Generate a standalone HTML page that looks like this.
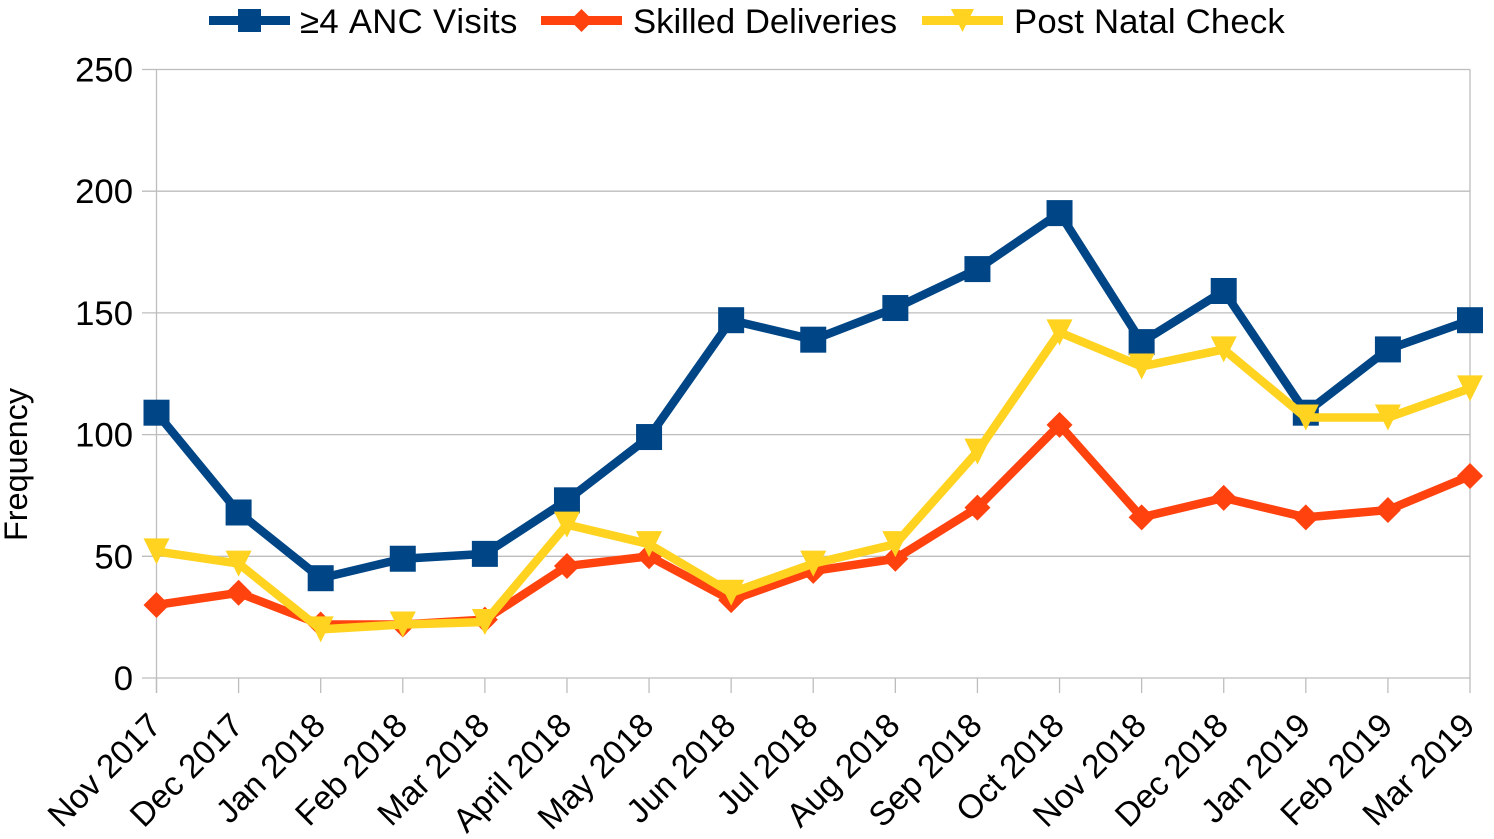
<!DOCTYPE html>
<html lang="en">
<head>
<meta charset="utf-8">
<title>Frequency chart</title>
<style>
html,body{margin:0;padding:0;background:#fff;}
svg{display:block;font-family:"Liberation Sans",sans-serif;fill:#000;font-kerning:none;}
</style>
</head>
<body>
<svg id="chart" width="1494" height="839" viewBox="0 0 1494 839" xmlns="http://www.w3.org/2000/svg">
<rect width="1494" height="839" fill="#fff"/>
<g id="grid"></g>
<g id="axes"></g>
<text transform="translate(27,464.5) rotate(-90)" text-anchor="middle" font-size="32.4">Frequency</text>
<g id="series"></g>
<g id="legend"></g>
</svg>
<script>
const categories = ["Nov 2017","Dec 2017","Jan 2018","Feb 2018","Mar 2018","April 2018","May 2018","Jun 2018","Jul 2018","Aug 2018","Sep 2018","Oct 2018","Nov 2018","Dec 2018","Jan 2019","Feb 2019","Mar 2019"];
const ancVisits = [109,68,41,49,51,73,99,147,139,152,168,191,138,159,109,135,147];
const skilledDeliveries = [30,35,22,22,24,46,50,32,44,49,70,104,66,74,66,69,83];
const postNatalCheck = [52,47,20,22,23,63,55,35,47,55,93,142,128,135,107,107,119];
const yTicks = [0,50,100,150,200,250];
const seriesNames = ["≥4 ANC Visits","Skilled Deliveries","Post Natal Check"];

const NS = "http://www.w3.org/2000/svg";
const left = 156.5, right = 1470, top_ = 69.5, bottom = 678, yMax = 250;
const xPos = i => left + (right - left) * i / (categories.length - 1);
const yPos = v => bottom - (bottom - top_) * v / yMax;

function make(tag, attrs, parent) {
  const el = document.createElementNS(NS, tag);
  for (const k in attrs) el.setAttribute(k, attrs[k]);
  parent.appendChild(el);
  return el;
}

const grid = document.getElementById("grid");
const axes = document.getElementById("axes");
const GRIDC = "#bdbdbd";

yTicks.forEach(t => {
  const y = yPos(t);
  const line = make("line", {x1: 142, x2: right, y1: y, y2: y, stroke: GRIDC, "stroke-width": 1.3}, grid);
  
  
  const label = make("text", {x: 133, y: y + 12, "text-anchor": "end", "font-size": 34.7}, axes);
  
  
  label.textContent = t;
});

const yAxisLine = make("line", {x1: left, x2: left, y1: top_, y2: 693, stroke: GRIDC, "stroke-width": 1.3}, axes);


const rightLine = make("line", {x1: right, x2: right, y1: top_, y2: bottom, stroke: GRIDC, "stroke-width": 1.3}, axes);



categories.forEach((c, i) => {
  const x = xPos(i);
  const tick = make("line", {x1: x, x2: x, y1: bottom, y2: 693, stroke: GRIDC, "stroke-width": 1.3}, axes);
  
  
  const label = make("text", {transform: `translate(${x + 6.5},727.5) rotate(-45)`, "text-anchor": "end", "font-size": 33.5}, axes);
  
  
  label.textContent = c;
});

function marker(kind, x, y, color, parent, h) {
  let el;
  if (kind === "square") {
    el = make("rect", {x: x - h, y: y - h, width: 2 * h, height: 2 * h, fill: color}, parent);
  } else if (kind === "diamond") {
    el = make("polygon", {points: `${x},${y - h} ${x + h},${y} ${x},${y + h} ${x - h},${y}`, fill: color}, parent);
  } else {
    el = make("polygon", {points: `${x - h},${y - h} ${x + h},${y - h} ${x},${y + h}`, fill: color}, parent);
  }
  return el;
}

const defs = [
  {values: ancVisits, color: "#004586", kind: "square", key: "anc-visits"},
  {values: skilledDeliveries, color: "#ff420e", kind: "diamond", key: "skilled-deliveries"},
  {values: postNatalCheck, color: "#ffd320", kind: "triangle", key: "post-natal-check"}
];

const seriesLayer = document.getElementById("series");
defs.forEach(d => {
  const g = make("g", {}, seriesLayer);
  
  
  const pts = d.values.map((v, i) => `${xPos(i)},${yPos(v)}`).join(" ");
  const line = make("polyline", {points: pts, fill: "none", stroke: d.color, "stroke-width": 8.5, "stroke-linejoin": "round"}, g);
  
  
  d.values.forEach((v, i) => {
    const m = marker(d.kind, xPos(i), yPos(v), d.color, g, 13);
    
    
  });
});

const legend = document.getElementById("legend");
const legendLineStarts = [209, 541, 922];
const legendTextStarts = [300, 633, 1014];
const legendTracking = [0.3, 0, 0.18];
defs.forEach((d, i) => {
  const x0 = legendLineStarts[i];
  const ly = 20.5;
  const line = make("line", {x1: x0, x2: x0 + 81, y1: ly, y2: ly, stroke: d.color, "stroke-width": 9}, legend);
  
  
  const m = marker(d.kind, x0 + 40.5, ly, d.color, legend, 11.5);
  
  
  const t = make("text", {x: legendTextStarts[i], y: 33, "font-size": 34.7, "letter-spacing": legendTracking[i]}, legend);
  
  
  t.textContent = seriesNames[i];
});
</script>
</body>
</html>
